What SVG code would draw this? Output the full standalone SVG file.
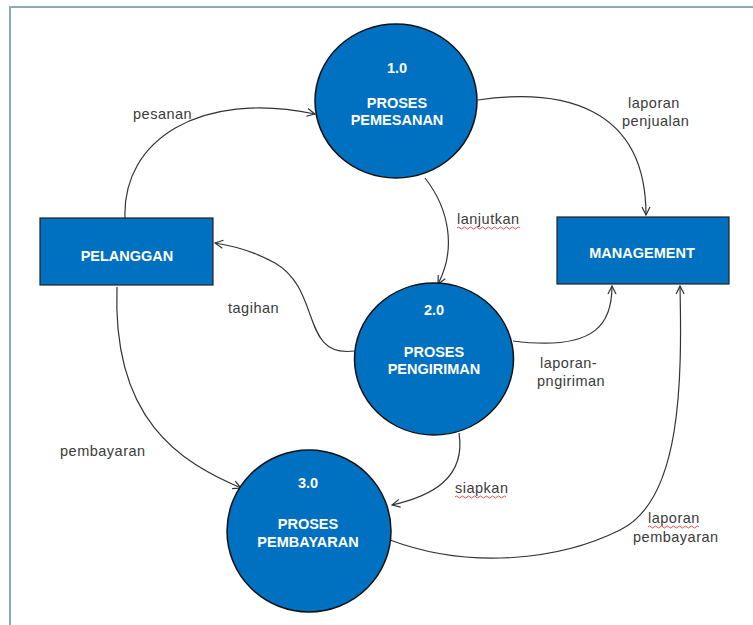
<svg xmlns="http://www.w3.org/2000/svg" width="753" height="625" viewBox="0 0 753 625">
<defs>
<marker id="arr" viewBox="0 0 10 10" refX="9" refY="5" markerWidth="10" markerHeight="10" markerUnits="userSpaceOnUse" orient="auto">
<path d="M1,1 L9,5 L1,9" fill="none" stroke="#333" stroke-width="1.2"/>
</marker>
</defs>
<style>
.proc{fill:#0070C0;stroke:#111;stroke-width:1.5}
.ent{fill:#0070C0;stroke:#222;stroke-width:1.2}
.nt{font-family:"Liberation Sans",Arial,sans-serif;font-weight:bold;font-size:14.5px;fill:#fff;text-anchor:middle}
.lbl{font-family:"Liberation Sans",Arial,sans-serif;font-size:14.5px;fill:#3a3a3a;letter-spacing:0.5px}
.c{fill:none;stroke:#333;stroke-width:1.2;marker-end:url(#arr)}
.sq{fill:none;stroke:#e02020;stroke-width:0.8}
</style>
<rect x="0" y="0" width="753" height="625" fill="#fff"/>
<path d="M10,640 L10,7 L760,7" fill="none" stroke="#90a8ae" stroke-width="2"/>
<g id="connectors">
<path class="c" d="M125,218 C122,140 200,90 315,114"/>
<path class="c" d="M478,100 C560,88 646,105 646,215"/>
<path class="c" d="M425,178 C450,210 456,250 438,284"/>
<path class="c" d="M354,351 C300,358 322,290 275,263 C255,252 235,246 215,243"/>
<path class="c" d="M513,341 C600,352 612,320 612,286"/>
<path class="c" d="M117,287 C112,420 180,462 241,488"/>
<path class="c" d="M459,433 C466,478 432,496 392,505"/>
<path class="c" d="M390,540 C470,570 560,560 620,530 C682,500 682,380 680,286"/>
</g>
<g id="labels">
<text class="lbl" x="133" y="119">pesanan</text>
<text class="lbl" x="628" y="108">laporan</text>
<text class="lbl" x="622" y="126">penjualan</text>
<text class="lbl" x="457" y="224">lanjutkan</text>
<path class="sq" d="M457,228 q1.5,-2 3,0 t3,0 t3,0 t3,0 t3,0 t3,0 t3,0 t3,0 t3,0 t3,0 t3,0 t3,0 t3,0 t3,0 t3,0 t3,0 t3,0 t3,0 t3,0 t3,0 t3,0"/>
<text class="lbl" x="228" y="313">tagihan</text>
<text class="lbl" x="540" y="368">laporan-</text>
<text class="lbl" x="537" y="386">pngiriman</text>
<text class="lbl" x="60" y="456">pembayaran</text>
<text class="lbl" x="455" y="493">siapkan</text>
<path class="sq" d="M455,497 q1.5,-2 3,0 t3,0 t3,0 t3,0 t3,0 t3,0 t3,0 t3,0 t3,0 t3,0 t3,0 t3,0 t3,0 t3,0 t3,0 t3,0 t3,0"/>
<text class="lbl" x="648" y="523">laporan</text>
<path class="sq" d="M648,527 q1.5,-2 3,0 t3,0 t3,0 t3,0 t3,0 t3,0 t3,0 t3,0 t3,0 t3,0 t3,0 t3,0 t3,0 t3,0 t3,0 t3,0 t3,0"/>
<text class="lbl" x="633" y="542">pembayaran</text>
</g>
<g id="p1">
<ellipse class="proc" cx="396" cy="101" rx="81" ry="77"/>
<text class="nt" x="397" y="73">1.0</text>
<text class="nt" x="397" y="108">PROSES</text>
<text class="nt" x="397" y="125">PEMESANAN</text>
</g>
<g id="p2">
<ellipse class="proc" cx="434" cy="359" rx="79.5" ry="76"/>
<text class="nt" x="434" y="315">2.0</text>
<text class="nt" x="434" y="357">PROSES</text>
<text class="nt" x="434" y="374">PENGIRIMAN</text>
</g>
<g id="p3">
<ellipse class="proc" cx="309" cy="531" rx="82" ry="81"/>
<text class="nt" x="308" y="488">3.0</text>
<text class="nt" x="308" y="529">PROSES</text>
<text class="nt" x="308" y="547">PEMBAYARAN</text>
</g>
<g id="pelanggan">
<rect class="ent" x="40" y="218" width="173" height="67"/>
<text class="nt" x="127" y="261">PELANGGAN</text>
</g>
<g id="management">
<rect class="ent" x="557" y="217" width="172" height="67"/>
<text class="nt" x="642" y="258">MANAGEMENT</text>
</g>
</svg>
